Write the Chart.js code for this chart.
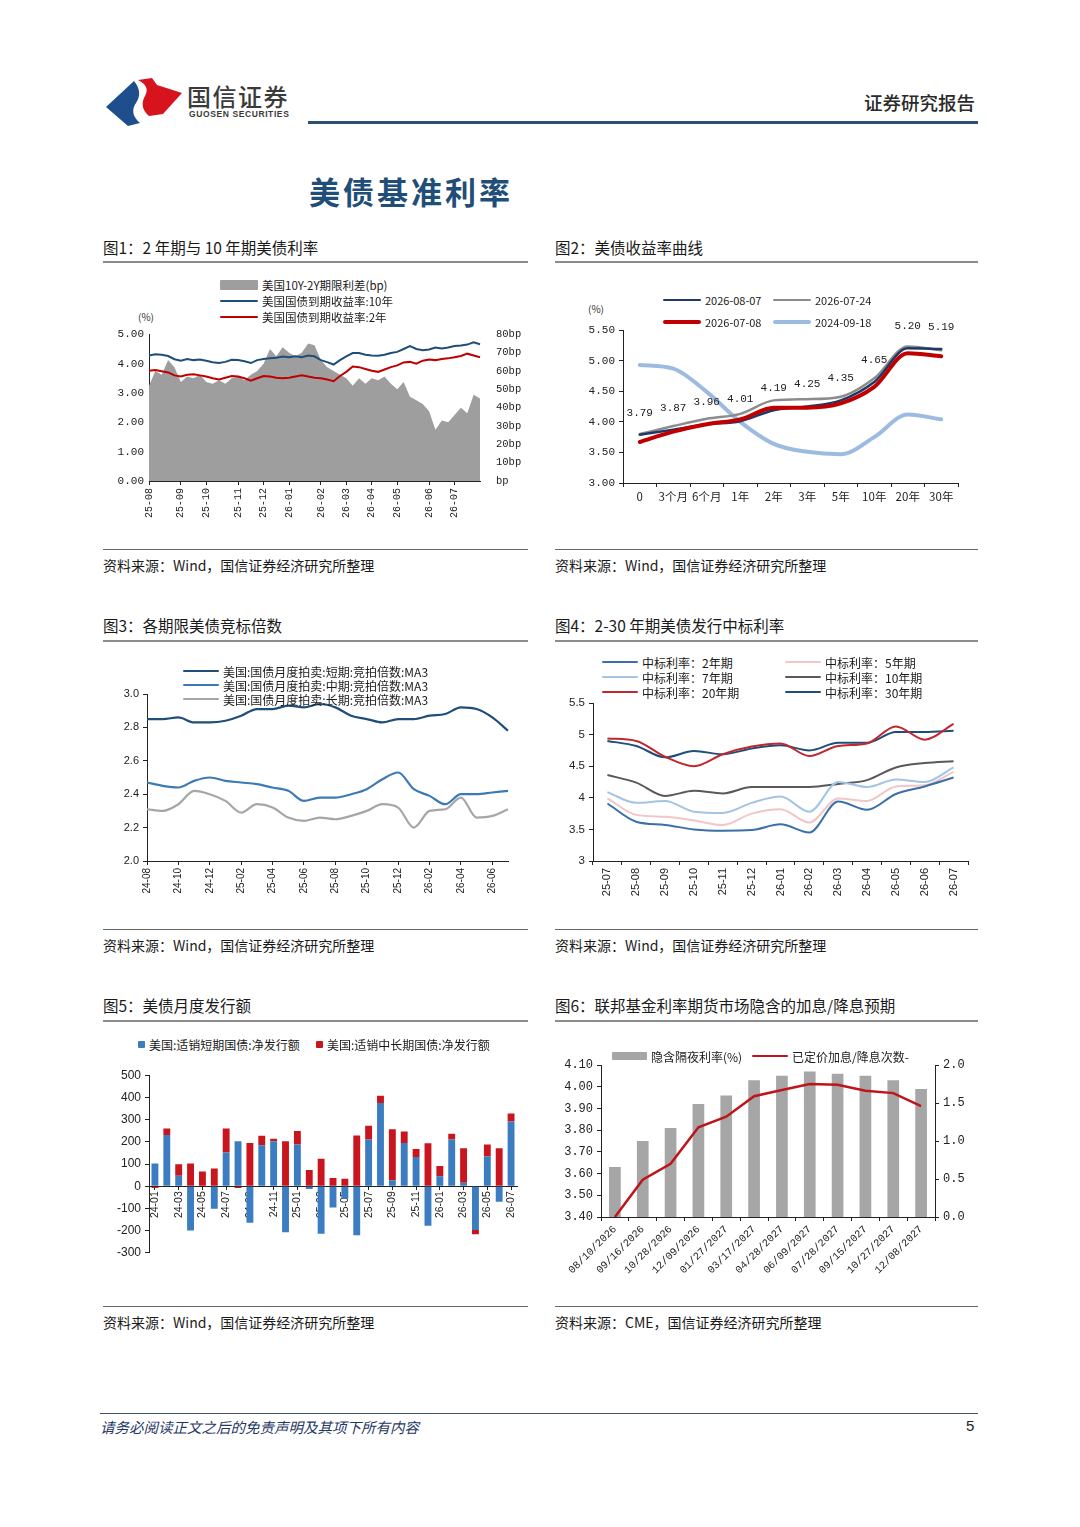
<!DOCTYPE html>
<html lang="zh-CN">
<head>
<meta charset="UTF-8">
<title>美债基准利率</title>
<script src="https://cdn.jsdelivr.net/npm/chart.js"></script>
<style>
  body { margin: 0; background: #fff; font-family: "Noto Sans CJK SC", sans-serif; }
  #page { position: relative; width: 1080px; height: 1527px; overflow: hidden; background: #fff; }
  .abs { position: absolute; white-space: nowrap; }
  canvas { position: absolute; }
  .ptitle { font-size: 15.5px; color: #1a1a1a; line-height: 20px; }
  .src { font-size: 14px; color: #1a1a1a; line-height: 20px; }
  .rule { position: absolute; height: 0; }
  .leg { position: absolute; display: flex; align-items: center; height: 16px; font-size: 12px; color: #1a1a1a; white-space: nowrap; z-index: 2; }
  .leg .sw { display: inline-block; border-radius: 1px; }
  .unit { font-size: 10px; color: #333; }
</style>
</head>
<body>
<div id="page">
  <!-- header -->
  <svg class="abs" style="left:100px;top:72px" width="90" height="60" viewBox="100 72 90 60">
    <path d="M106,107 L134,81 C140,88 141,96 136,103 C131,110 133,117 140,123 L128,126 Z" fill="#1f4e8c"/>
    <path d="M138,80 L152,78 L157,85 L182,93 L163,114 L149,116 C142,110 141,103 145,96 C149,89 146,84 138,80 Z" fill="#d7141d"/>
  </svg>
  <div class="abs" style="left:187px;top:78px;font-size:24px;font-weight:500;color:#3a3a3a;letter-spacing:1.5px">国信证券</div>
  <div class="abs" style="left:189px;top:109px;font-family:'Liberation Sans',Arial;font-size:8.5px;font-weight:bold;color:#3a3a3a;letter-spacing:0.6px">GUOSEN SECURITIES</div>
  <div class="abs" style="left:864px;top:89px;font-size:18.5px;font-weight:500;color:#2a2a2a">证券研究报告</div>
  <div class="rule" style="left:308px;top:121px;width:670px;border-top:3px solid #2c4f74"></div>
  <div class="abs" style="left:309px;top:168px;font-size:31px;font-weight:bold;color:#1f4e79;letter-spacing:3px">美债基准利率</div>

  <!-- panel titles and sources -->
  <div class="abs ptitle" style="left:103px;top:237px">图1：2 年期与 10 年期美债利率</div>
  <div class="rule" style="left:103px;top:261px;width:425px;border-top:2px solid #8c8c8c"></div>
  <div class="abs ptitle" style="left:555px;top:237px">图2：美债收益率曲线</div>
  <div class="rule" style="left:555px;top:261px;width:423px;border-top:2px solid #8c8c8c"></div>
  <div class="rule" style="left:103px;top:549px;width:425px;border-top:1.5px solid #666"></div>
  <div class="abs src" style="left:103px;top:555px">资料来源：Wind，国信证券经济研究所整理</div>
  <div class="rule" style="left:555px;top:549px;width:423px;border-top:1.5px solid #666"></div>
  <div class="abs src" style="left:555px;top:555px">资料来源：Wind，国信证券经济研究所整理</div>

  <div class="abs ptitle" style="left:103px;top:615px">图3：各期限美债竞标倍数</div>
  <div class="rule" style="left:103px;top:640px;width:425px;border-top:2px solid #8c8c8c"></div>
  <div class="abs ptitle" style="left:555px;top:615px">图4：2-30 年期美债发行中标利率</div>
  <div class="rule" style="left:555px;top:640px;width:423px;border-top:2px solid #8c8c8c"></div>
  <div class="rule" style="left:103px;top:929px;width:425px;border-top:1.5px solid #666"></div>
  <div class="abs src" style="left:103px;top:935px">资料来源：Wind，国信证券经济研究所整理</div>
  <div class="rule" style="left:555px;top:929px;width:423px;border-top:1.5px solid #666"></div>
  <div class="abs src" style="left:555px;top:935px">资料来源：Wind，国信证券经济研究所整理</div>

  <div class="abs ptitle" style="left:103px;top:995px">图5：美债月度发行额</div>
  <div class="rule" style="left:103px;top:1020px;width:425px;border-top:2px solid #8c8c8c"></div>
  <div class="abs ptitle" style="left:555px;top:995px">图6：联邦基金利率期货市场隐含的加息/降息预期</div>
  <div class="rule" style="left:555px;top:1020px;width:423px;border-top:2px solid #8c8c8c"></div>
  <div class="rule" style="left:103px;top:1306px;width:425px;border-top:1.5px solid #666"></div>
  <div class="abs src" style="left:103px;top:1312px">资料来源：Wind，国信证券经济研究所整理</div>
  <div class="rule" style="left:555px;top:1306px;width:423px;border-top:1.5px solid #666"></div>
  <div class="abs src" style="left:555px;top:1312px">资料来源：CME，国信证券经济研究所整理</div>

  <!-- footer -->
  <div class="rule" style="left:100px;top:1413px;width:878px;border-top:1.5px solid #44546a"></div>
  <div class="abs" style="left:100px;top:1416px;font-size:14.5px;font-style:italic;color:#1f3864">请务必阅读正文之后的免责声明及其项下所有内容</div>
  <div class="abs" style="left:966px;top:1417px;font-family:'Liberation Sans',Arial;font-size:15px;color:#222">5</div>

  <div class="abs unit" style="left:138px;top:309px">(%)</div>
  <div class="abs unit" style="left:588px;top:301px">(%)</div>

  <canvas id="c1" width="425" height="220" style="left:103px;top:320px"></canvas>
  <canvas id="c2" width="425" height="200" style="left:555px;top:310px"></canvas>
  <canvas id="c3" width="425" height="260" style="left:103px;top:660px"></canvas>
  <canvas id="c4" width="425" height="230" style="left:555px;top:690px"></canvas>
  <canvas id="c5" width="425" height="200" style="left:103px;top:1064px"></canvas>
  <canvas id="c6" width="425" height="240" style="left:555px;top:1050px"></canvas>
</div>

<script>
// ---------- 图1 data (weekly) ----------
const c1Names = ['美国10Y-2Y期限利差(bp)', '美国国债到期收益率:10年', '美国国债到期收益率:2年'];
const c1Dates = ['2025-08-01','2025-08-08','2025-08-15','2025-08-22','2025-08-29','2025-09-05','2025-09-12','2025-09-19','2025-09-26',
  '2025-10-03','2025-10-10','2025-10-17','2025-10-24','2025-10-31','2025-11-07','2025-11-14','2025-11-21','2025-11-28',
  '2025-12-05','2025-12-12','2025-12-19','2025-12-26','2026-01-02','2026-01-09','2026-01-16','2026-01-23','2026-01-30',
  '2026-02-06','2026-02-13','2026-02-20','2026-02-27','2026-03-06','2026-03-13','2026-03-20','2026-03-27','2026-04-03',
  '2026-04-10','2026-04-17','2026-04-24','2026-05-01','2026-05-08','2026-05-15','2026-05-22','2026-05-29','2026-06-05',
  '2026-06-12','2026-06-19','2026-06-26','2026-07-03','2026-07-10','2026-07-17','2026-07-24','2026-07-31'];
const c1Spread = [52,60,58,66,62,54,57,56,58,54,53,55,53,56,57,55,58,60,64,72,68,73,70,68,70,75,74,66,62,60,
  58,56,52,56,53,56,55,57,53,50,54,46,44,42,38,28,33,32,36,40,37,47,45];
const c1Y10 = [4.28,4.32,4.30,4.26,4.15,4.10,4.16,4.12,4.14,4.10,4.05,4.02,4.06,4.13,4.12,4.08,4.02,4.12,4.16,4.18,
  4.20,4.24,4.22,4.25,4.22,4.28,4.25,4.12,4.05,3.97,4.12,4.25,4.36,4.36,4.30,4.28,4.27,4.30,4.36,4.40,
  4.50,4.60,4.50,4.46,4.48,4.55,4.52,4.55,4.60,4.62,4.65,4.73,4.66];
const c1Y2 = [3.76,3.78,3.74,3.70,3.60,3.56,3.62,3.64,3.60,3.56,3.50,3.46,3.52,3.58,3.56,3.50,3.42,3.50,3.58,3.56,
  3.52,3.50,3.52,3.56,3.60,3.56,3.52,3.50,3.46,3.40,3.58,3.72,3.90,3.88,3.82,3.76,3.72,3.80,3.88,3.94,
  4.04,4.06,4.00,4.10,4.14,4.12,4.16,4.18,4.22,4.26,4.34,4.28,4.22];

// ---------- 图2 data ----------
const c2Tenors = ['0', '3个月', '6个月', '1年', '2年', '3年', '5年', '10年', '20年', '30年'];
const c2Names = ['2026-08-07', '2026-07-24', '2026-07-08', '2024-09-18'];
const c2Aug07 = [3.79, 3.87, 3.96, 4.01, 4.19, 4.25, 4.35, 4.65, 5.20, 5.19];
const c2Jul24 = [3.80, 3.93, 4.05, 4.13, 4.35, 4.37, 4.41, 4.71, 5.23, 5.17];
const c2Jul08 = [3.67, 3.84, 3.96, 4.04, 4.23, 4.23, 4.30, 4.57, 5.12, 5.07];
const c2Sep18 = [4.93, 4.87, 4.49, 4.00, 3.64, 3.51, 3.47, 3.75, 4.12, 4.04];

// ---------- 图3 data ----------
const c3Names = ['美国:国债月度拍卖:短期:竞拍倍数:MA3', '美国:国债月度拍卖:中期:竞拍倍数:MA3', '美国:国债月度拍卖:长期:竞拍倍数:MA3'];
const c3Months = ['24-08','24-09','24-10','24-11','24-12','25-01','25-02','25-03','25-04','25-05','25-06','25-07',
  '25-08','25-09','25-10','25-11','25-12','26-01','26-02','26-03','26-04','26-05','26-06','26-07'];
const c3Short = [2.85,2.85,2.86,2.83,2.83,2.84,2.87,2.91,2.91,2.93,2.92,2.94,2.92,2.87,2.85,2.83,2.85,2.85,2.87,2.88,2.92,2.91,2.86,2.78];
const c3Mid = [2.47,2.45,2.44,2.48,2.50,2.48,2.47,2.46,2.44,2.42,2.36,2.38,2.38,2.40,2.43,2.49,2.53,2.43,2.39,2.34,2.40,2.40,2.41,2.42];
const c3Long = [2.31,2.30,2.34,2.42,2.40,2.36,2.29,2.34,2.32,2.26,2.24,2.26,2.25,2.27,2.30,2.34,2.32,2.20,2.30,2.31,2.38,2.26,2.27,2.31];

// ---------- 图4 data ----------
const c4Names = ['中标利率：2年期', '中标利率：5年期', '中标利率：7年期', '中标利率：10年期', '中标利率：20年期', '中标利率：30年期'];
const c4Months = ['25-07','25-08','25-09','25-10','25-11','25-12','26-01','26-02','26-03','26-04','26-05','26-06','26-07'];
const c4Y2 = [3.91,3.62,3.57,3.50,3.48,3.49,3.58,3.45,3.94,3.81,4.06,4.18,4.32];
const c4Y5 = [3.99,3.73,3.70,3.64,3.57,3.75,3.82,3.61,3.99,3.95,4.18,4.20,4.41];
const c4Y7 = [4.09,3.92,3.95,3.78,3.76,3.92,4.02,3.78,4.25,4.17,4.29,4.25,4.48];
const c4Y10 = [4.36,4.24,4.03,4.11,4.07,4.17,4.17,4.17,4.22,4.28,4.48,4.55,4.58];
const c4Y20 = [4.94,4.90,4.65,4.50,4.69,4.81,4.86,4.66,4.82,4.86,5.13,4.92,5.17];
const c4Y30 = [4.90,4.82,4.64,4.74,4.69,4.78,4.83,4.75,4.87,4.87,5.04,5.04,5.06];

// ---------- 图5 data ----------
const c5Names = ['美国:适销短期国债:净发行额', '美国:适销中长期国债:净发行额'];
const c5Months = ['24-01','24-02','24-03','24-04','24-05','24-06','24-07','24-08','24-09','24-10','24-11','24-12',
  '25-01','25-02','25-03','25-04','25-05','25-06','25-07','25-08','25-09','25-10','25-11','25-12',
  '26-01','26-02','26-03','26-04','26-05','26-06','26-07'];
const c5Short = [102,231,47,-200,0,-102,152,203,-165,185,203,-207,188,-13,-214,-96,-56,-221,210,375,27,195,131,-178,45,210,16,-197,134,-70,292];
const c5Long = [-8,29,52,102,66,80,108,-8,195,42,11,203,61,73,124,37,33,228,62,32,229,51,37,193,46,26,155,-20,54,171,36];

// ---------- 图6 data ----------
const c6Names = ['隐含隔夜利率(%)', '已定价加息/降息次数-'];
const c6Dates = ['08/10/2026','09/16/2026','10/28/2026','12/09/2026','01/27/2027','03/17/2027','04/28/2027',
  '06/09/2027','07/28/2027','09/15/2027','10/27/2027','12/08/2027'];
const c6Rate = [3.63, 3.75, 3.81, 3.92, 3.96, 4.03, 4.05, 4.07, 4.06, 4.05, 4.03, 3.99];
const c6Hikes = [0.0, 0.49, 0.70, 1.18, 1.32, 1.59, 1.67, 1.75, 1.74, 1.66, 1.63, 1.46];

// ---------- common ----------
const MONO = '"Liberation Mono", "DejaVu Sans Mono", monospace';
const SANS = '"Liberation Sans", Arial, sans-serif';
const CJK = '"Noto Sans CJK SC", sans-serif';
Chart.defaults.animation = false;
Chart.defaults.responsive = false;
Chart.defaults.color = '#222';
Chart.defaults.font.family = MONO;
Chart.defaults.font.size = 10;
Chart.defaults.plugins.legend.display = false;
Chart.defaults.plugins.tooltip.enabled = false;
Chart.defaults.elements.point.radius = 0;

const AX = '#222';
const noGrid = { display: true, drawOnChartArea: false, drawTicks: false };
const tickGrid = (len) => ({ display: true, drawOnChartArea: false, drawTicks: true, tickLength: len, color: AX });
const border = { display: true, color: AX, width: 1 };
const fixW = (w) => (s) => { s.width = w; };
const fixH = (h) => (s) => { s.height = h; };

function monthStarts(dates) {
  const idx = [];
  dates.forEach((d, i) => { if (i === 0 || d.slice(0, 7) !== dates[i - 1].slice(0, 7)) idx.push(i); });
  return idx;
}
function everyOther(list) {
  return list.map((_, i) => i).filter(i => i % 2 === 0);
}

function addLegend(items, fontSize) {
  const page = document.getElementById('page');
  items.forEach(it => {
    const row = document.createElement('div');
    row.className = 'leg';
    row.style.left = it.x + 'px';
    row.style.top = (it.y - 8) + 'px';
    row.style.fontSize = fontSize + 'px';
    const sw = document.createElement('span');
    sw.className = 'sw';
    sw.style.width = it.w + 'px';
    sw.style.height = it.h + 'px';
    sw.style.background = it.color;
    if (it.round) sw.style.borderRadius = (it.h / 2) + 'px';
    row.appendChild(sw);
    const tx = document.createElement('span');
    tx.textContent = it.text;
    tx.style.marginLeft = (it.gap || 4) + 'px';
    if (it.font) tx.style.fontFamily = it.font;
    row.appendChild(tx);
    page.appendChild(row);
  });
}

// ---------- 图1 ----------
const c1Col = ['#9e9e9e', '#1f4e79', '#c00000'];
new Chart(document.getElementById('c1'), {
  data: {
    labels: c1Dates,
    datasets: [
      { type: 'line', label: c1Names[0], data: c1Spread, yAxisID: 'yR', fill: 'origin', backgroundColor: c1Col[0], borderWidth: 0, tension: 0, order: 3 },
      { type: 'line', label: c1Names[1], data: c1Y10, yAxisID: 'y', borderColor: c1Col[1], borderWidth: 2, tension: 0, order: 1 },
      { type: 'line', label: c1Names[2], data: c1Y2, yAxisID: 'y', borderColor: c1Col[2], borderWidth: 2, tension: 0, order: 2 }
    ]
  },
  options: {
    layout: { padding: { top: 7 } },
    scales: {
      x: {
        type: 'category', offset: false,
        afterBuildTicks: s => { s.ticks = monthStarts(c1Dates).map(v => ({ value: v })); },
        ticks: { autoSkip: false, minRotation: 90, maxRotation: 90, padding: 3, font: { family: MONO, size: 10 },
          callback: v => c1Dates[v].slice(2, 7) },
        grid: tickGrid(4), border: border, afterFit: fixH(59)
      },
      y: {
        position: 'left', min: 0, max: 5,
        ticks: { stepSize: 1, padding: 5, font: { family: MONO, size: 11 }, callback: v => v.toFixed(2) },
        grid: noGrid, border: border, afterFit: fixW(46)
      },
      yR: {
        position: 'right', min: 0, max: 80,
        ticks: { stepSize: 10, padding: 8, font: { family: MONO, size: 10.5 }, callback: v => (v ? v : '') + 'bp' },
        grid: { display: false }, border: { display: false }, afterFit: fixW(48)
      }
    }
  }
});
addLegend([
  { x: 220, y: 285, w: 38, h: 10, color: c1Col[0], text: c1Names[0] },
  { x: 220, y: 301, w: 38, h: 2.5, color: c1Col[1], text: c1Names[1] },
  { x: 220, y: 317, w: 38, h: 2.5, color: c1Col[2], text: c1Names[2] }
], 11.5);

// ---------- 图2 ----------
const c2Col = ['#1f3864', '#8c8c8c', '#c00000', '#9dbbe0'];
const c2Width = [2.5, 2.5, 4, 4];
const c2Labels = {
  id: 'c2Labels',
  afterDatasetsDraw(chart) {
    const meta = chart.getDatasetMeta(0);
    const ctx = chart.ctx;
    ctx.save();
    ctx.font = '11px ' + MONO;
    ctx.fillStyle = '#222';
    ctx.textAlign = 'center';
    ctx.textBaseline = 'middle';
    meta.data.forEach((pt, i) => ctx.fillText(c2Aug07[i].toFixed(2), pt.x, pt.y - 22));
    ctx.restore();
  }
};
new Chart(document.getElementById('c2'), {
  type: 'line',
  data: {
    labels: c2Tenors,
    datasets: [
      { label: c2Names[0], data: c2Aug07, borderColor: c2Col[0], borderWidth: c2Width[0], order: 2 },
      { label: c2Names[1], data: c2Jul24, borderColor: c2Col[1], borderWidth: c2Width[1], order: 3 },
      { label: c2Names[2], data: c2Jul08, borderColor: c2Col[2], borderWidth: c2Width[2], order: 1 },
      { label: c2Names[3], data: c2Sep18, borderColor: c2Col[3], borderWidth: c2Width[3], order: 4 }
    ]
  },
  options: {
    layout: { padding: { top: 20, right: 22 } },
    elements: { line: { tension: 0.4, cubicInterpolationMode: 'monotone', borderCapStyle: 'round' } },
    scales: {
      x: {
        offset: true,
        ticks: { autoSkip: false, maxRotation: 0, padding: 3, font: { family: CJK, size: 11.5 } },
        grid: { display: true, drawOnChartArea: false, drawTicks: true, tickLength: 4, color: AX, offset: true },
        border: border, afterFit: fixH(27)
      },
      y: {
        min: 3, max: 5.5,
        ticks: { stepSize: 0.5, padding: 4, font: { family: MONO, size: 11 }, callback: v => v.toFixed(2) },
        grid: tickGrid(4), border: border, afterFit: fixW(68)
      }
    }
  },
  plugins: [c2Labels]
});
addLegend([
  { x: 663, y: 300, w: 38, h: 2.5, color: c2Col[0], text: c2Names[0], font: CJK },
  { x: 773, y: 300, w: 38, h: 2.5, color: c2Col[1], text: c2Names[1], font: CJK },
  { x: 663, y: 322, w: 38, h: 4.5, color: c2Col[2], text: c2Names[2], font: CJK, round: true },
  { x: 773, y: 322, w: 38, h: 4.5, color: c2Col[3], text: c2Names[3], font: CJK, round: true }
], 11);

// ---------- 图3 ----------
const c3Col = ['#1f4e79', '#3d7ab5', '#a6a6a6'];
new Chart(document.getElementById('c3'), {
  type: 'line',
  data: {
    labels: c3Months,
    datasets: [
      { label: c3Names[0], data: c3Short, borderColor: c3Col[0], borderWidth: 2.2 },
      { label: c3Names[1], data: c3Mid, borderColor: c3Col[1], borderWidth: 2.2 },
      { label: c3Names[2], data: c3Long, borderColor: c3Col[2], borderWidth: 2.2 }
    ]
  },
  options: {
    layout: { padding: { top: 34, right: 20 } },
    elements: { line: { tension: 0.4, cubicInterpolationMode: 'monotone' } },
    scales: {
      x: {
        offset: false,
        afterBuildTicks: s => { s.ticks = everyOther(c3Months).map(v => ({ value: v })); },
        ticks: { autoSkip: false, minRotation: 90, maxRotation: 90, padding: 3, font: { family: SANS, size: 10 },
          callback: v => c3Months[v] },
        grid: tickGrid(4), border: border, afterFit: fixH(59)
      },
      y: {
        min: 2, max: 3,
        ticks: { stepSize: 0.2, padding: 4, font: { family: SANS, size: 11 }, callback: v => v.toFixed(1) },
        grid: tickGrid(4), border: border, afterFit: fixW(44)
      }
    }
  }
});
addLegend([
  { x: 183, y: 671, w: 36, h: 2.5, color: c3Col[0], text: c3Names[0] },
  { x: 183, y: 685, w: 36, h: 2.5, color: c3Col[1], text: c3Names[1] },
  { x: 183, y: 699, w: 36, h: 2.5, color: c3Col[2], text: c3Names[2] }
], 12);

// ---------- 图4 ----------
const c4Col = ['#3a6fa8', '#f2c6c6', '#a3c4e4', '#595959', '#c0282d', '#1f4e79'];
const c4Data = [c4Y2, c4Y5, c4Y7, c4Y10, c4Y20, c4Y30];
new Chart(document.getElementById('c4'), {
  type: 'line',
  data: {
    labels: c4Months,
    datasets: c4Names.map((n, i) => ({ label: n, data: c4Data[i], borderColor: c4Col[i], borderWidth: 2 }))
  },
  options: {
    layout: { padding: { top: 13, right: 12 } },
    elements: { line: { tension: 0.4, cubicInterpolationMode: 'monotone' } },
    scales: {
      x: {
        offset: true,
        ticks: { autoSkip: false, minRotation: 90, maxRotation: 90, padding: 3, font: { family: SANS, size: 11 } },
        grid: { display: true, drawOnChartArea: false, drawTicks: true, tickLength: 4, color: AX, offset: true },
        border: border, afterFit: fixH(59)
      },
      y: {
        min: 3, max: 5.5,
        ticks: { stepSize: 0.5, padding: 4, font: { family: SANS, size: 11.5 }, callback: v => String(+v.toFixed(1)) },
        grid: tickGrid(4), border: border, afterFit: fixW(38)
      }
    }
  }
});
addLegend([
  { x: 602, y: 662, w: 36, h: 2.5, color: c4Col[0], text: c4Names[0] },
  { x: 602, y: 677, w: 36, h: 2.5, color: c4Col[2], text: c4Names[2] },
  { x: 602, y: 692, w: 36, h: 2.5, color: c4Col[4], text: c4Names[4] },
  { x: 785, y: 662, w: 36, h: 2.5, color: c4Col[1], text: c4Names[1] },
  { x: 785, y: 677, w: 36, h: 2.5, color: c4Col[3], text: c4Names[3] },
  { x: 785, y: 692, w: 36, h: 2.5, color: c4Col[5], text: c4Names[5] }
], 12);

// ---------- 图5 ----------
const c5Col = ['#3b7dc0', '#c9151e'];
new Chart(document.getElementById('c5'), {
  type: 'bar',
  data: {
    labels: c5Months,
    datasets: [
      { label: c5Names[0], data: c5Short, backgroundColor: c5Col[0], stack: 's', categoryPercentage: 1, barPercentage: 0.58 },
      { label: c5Names[1], data: c5Long, backgroundColor: c5Col[1], stack: 's', categoryPercentage: 1, barPercentage: 0.58 }
    ]
  },
  options: {
    layout: { padding: { top: 10, right: 11, bottom: 4 } },
    scales: {
      x: {
        stacked: true, position: { y: 0 }, z: 1,
        afterBuildTicks: s => { s.ticks = everyOther(c5Months).map(v => ({ value: v })); },
        ticks: { autoSkip: false, minRotation: 90, maxRotation: 90, padding: 2, font: { family: SANS, size: 10.5 },
          callback: v => c5Months[v] },
        grid: { display: true, drawOnChartArea: false, drawTicks: true, tickLength: 3, color: AX, offset: false },
        border: border
      },
      y: {
        stacked: true, min: -300, max: 500,
        ticks: { stepSize: 100, padding: 4, font: { family: SANS, size: 12 } },
        grid: tickGrid(4), border: border, afterFit: fixW(46)
      }
    }
  }
});
addLegend([
  { x: 138, y: 1044, w: 7, h: 7, color: c5Col[0], text: c5Names[0], gap: 4 },
  { x: 316, y: 1044, w: 7, h: 7, color: c5Col[1], text: c5Names[1], gap: 4 }
], 12);

// ---------- 图6 ----------
const c6Col = ['#a6a6a6', '#c0141c'];
new Chart(document.getElementById('c6'), {
  data: {
    labels: c6Dates,
    datasets: [
      { type: 'line', label: c6Names[1], data: c6Hikes, yAxisID: 'yR', borderColor: c6Col[1], borderWidth: 2.5, tension: 0, order: 1 },
      { type: 'bar', label: c6Names[0], data: c6Rate, yAxisID: 'y', backgroundColor: c6Col[0], categoryPercentage: 1, barPercentage: 0.42, order: 2 }
    ]
  },
  options: {
    layout: { padding: { top: 15 } },
    scales: {
      x: {
        offset: true,
        ticks: { autoSkip: false, minRotation: 45, maxRotation: 45, padding: 2, font: { family: MONO, size: 10.5 } },
        grid: { display: true, drawOnChartArea: false, drawTicks: true, tickLength: 4, color: AX, offset: true },
        border: border, afterFit: fixH(73)
      },
      y: {
        position: 'left', min: 3.4, max: 4.1,
        ticks: { stepSize: 0.1, padding: 4, font: { family: MONO, size: 12 }, callback: v => v.toFixed(2) },
        grid: tickGrid(4), border: border, afterFit: fixW(46)
      },
      yR: {
        position: 'right', min: 0, max: 2,
        ticks: { stepSize: 0.5, padding: 4, font: { family: MONO, size: 12 }, callback: v => v.toFixed(1) },
        grid: tickGrid(4), border: border, afterFit: fixW(45)
      }
    }
  }
});
addLegend([
  { x: 612, y: 1056, w: 35, h: 8, color: c6Col[0], text: c6Names[0] },
  { x: 752, y: 1056, w: 36, h: 2.5, color: c6Col[1], text: c6Names[1] }
], 12);
</script>
</body>
</html>
